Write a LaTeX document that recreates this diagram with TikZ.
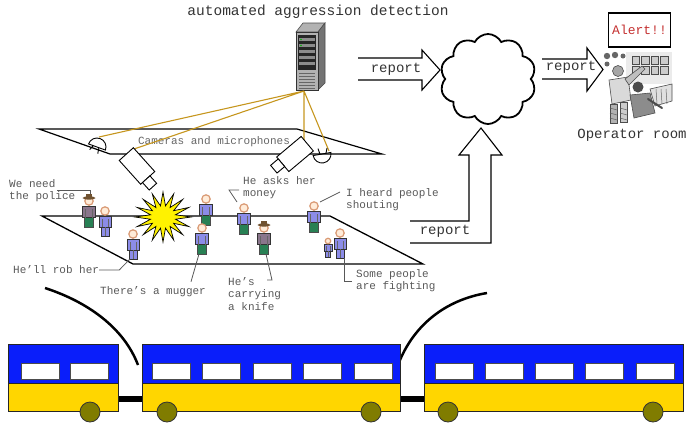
\documentclass[tikz,border=0pt]{standalone}
\usepackage{fontspec}
\setmonofont{Liberation Mono}
\usetikzlibrary{shapes.geometric, shapes.symbols, calc}

\definecolor{wire}{RGB}{198,150,30}
\definecolor{talk}{RGB}{88,88,88}
\definecolor{coachblue}{RGB}{10,30,250}
\definecolor{coachyellow}{RGB}{255,214,0}
\definecolor{axle}{RGB}{128,124,0}
\definecolor{shirt}{RGB}{140,140,232}
\definecolor{trousers}{RGB}{40,128,84}
\definecolor{coat}{RGB}{138,118,140}
\definecolor{hatbrown}{RGB}{112,82,48}
\definecolor{alertred}{RGB}{196,48,48}

\tikzset{
    face/.style={fill=white!85!orange, draw=brown!60!pink, line width=1.2},
    man/.pic={
        \draw[fill=trousers, draw=black!70] (-4.5,16) rectangle (4.5,26);
        \draw[fill=shirt, draw=black!80] (-6.5,5) rectangle (6.5,16.5);
        \draw[black!60] (-3.5,8) -- (-3.5,16.5) (3.5,8) -- (3.5,16.5);
        \draw[face] (0,0) circle (4.2);
    },
    guard/.pic={
        \draw[fill=trousers, draw=black!70] (-4.5,16) rectangle (4.5,26);
        \draw[fill=coat, draw=black!80] (-6.5,5) rectangle (6.5,16.5);
        \draw[black!60] (-3.5,8) -- (-3.5,16.5) (3.5,8) -- (3.5,16.5);
        \draw[face] (0,0) circle (4.2);
        \fill[hatbrown] (0,-3) ellipse (6.5 and 1.6);
        \fill[hatbrown] (-3,-3) rectangle (3,-7);
    },
    lady/.pic={
        \draw[fill=shirt, draw=black!80] (-4,15) rectangle (4,25);
        \draw[fill=shirt, draw=black!80] (-6,5) rectangle (6,16);
        \draw[black!60] (-3,8) -- (-3,16) (3,8) -- (3,16) (0,16) -- (0,25);
        \draw[face] (0,0) circle (4.2);
    },
    camera/.pic={
        \draw[fill=white, line width=.9] (-16,-9.5) rectangle (16,9.5);
        \draw[fill=white, line width=.9] (16,-3) rectangle (26,7);
    },
    mic/.pic={
        \draw[line width=.9] (-9,0) arc (180:0:9) -- cycle;
        \draw[line width=.9] (-2,0) -- (-3,-6) (4,0) -- (6,-5);
    }
}

\begin{document}
\begin{tikzpicture}[
        x=1pt, y=-1pt,
        every node/.style={font=\ttfamily},
        say/.style={text=talk, align=left, inner sep=0,
            font=\ttfamily\fontsize{11}{12.5}\selectfont},
        leader/.style={draw=talk, line width=.8},
        wirepath/.style={draw=wire, line width=1.1},
        bigarrow/.style={draw=black, line width=1.1, line join=miter},
        arrowtext/.style={font=\ttfamily\fontsize{14}{16}\selectfont, text=black!80},
        sketch/.style={draw=black!70, line width=.6},
        coach/.style={draw=black!85, line width=.8},
        pane/.style={fill=white, draw=black!70, line width=.8},
        wheel/.style={fill=axle, draw=black!80, line width=.8}
    ]
    \useasboundingbox (0,0) rectangle (693,424);

    \node[font=\ttfamily\fontsize{14.5}{16}\selectfont, text=black!80] (title) at (318,12) {automated aggression detection};

    % server rack
    \fill[black!30, draw=black!70, line width=.6] (296,32) -- (303,23) -- (325,23) -- (318,32) -- cycle;
    \fill[black!55, draw=black!70, line width=.6] (318,32) -- (325,23) -- (325,83) -- (318,90) -- cycle;
    \draw[fill=black!30, draw=black!80, line width=.6] (296,32) rectangle (318,90);
    \fill[black!85] (298,35) rectangle (316,70);
    \foreach \y in {38,44,50,56,62}
        \fill[black!45] (299,\y) rectangle (315,\y+3);
    \fill[green!70!black] (301,39.5) circle (.9) (301,45.5) circle (.9);
    \foreach \y in {73,76,...,88}
        \draw[black!60, line width=.5] (299,\y) -- (315,\y);
    \coordinate (hub) at (304,91);

    % ceiling with the sensors
    \draw[line width=1.2] (39,129) -- (297,129) -- (382,154) -- (110,154) -- cycle;
    \node[font=\ttfamily\fontsize{11}{12}\selectfont, text=black!60] (sensors) at (214,142) {Cameras and microphones};
    \coordinate (mic1) at (99,137);
    \coordinate (cam1) at (134,149);
    \coordinate (cam2) at (304,141);
    \coordinate (mic2) at (329,151);
    \draw[wirepath] (hub) -- (mic1) (hub) -- (cam1) (hub) -- (cam2) (hub) -- (mic2);
    \pic[rotate=160] at (97,147) {mic};
    \pic[rotate=10] at (322,154) {mic};
    \pic[rotate=-48] at (137,166) {camera};
    \pic[rotate=-140] at (295,154) {camera};

    % cloud and reports
    \node[cloud, draw, line width=1.8, cloud puffs=10, cloud puff arc=125,
          minimum width=96pt, minimum height=90pt, inner sep=0] (net) at (488,79) {};
    \draw[bigarrow] (358,58) -- (422,58) -- (422,50) -- (440,70) -- (422,90) -- (422,80) -- (358,80);
    \node[arrowtext] (rep1) at (396,69) {report};
    \draw[bigarrow] (542,59) -- (587,59) -- (587,48) -- (603,69.5) -- (587,91) -- (587,79) -- (542,79);
    \node[arrowtext] (rep2) at (571,67) {report};
    \draw[bigarrow] (410,243) -- (491,243) -- (491,155) -- (502,155) -- (481,128) -- (459,155)
        -- (469,155) -- (469,221) -- (410,221);
    \node[arrowtext] (rep3) at (445,231) {report};

    % operator room
    \node[draw, line width=1.2, minimum width=61pt, minimum height=34pt,
          font=\ttfamily\fontsize{13}{15}\selectfont, text=alertred] (alert) at (639.5,30) {Alert!!};
    \fill[black!8] (626,52) rectangle (672,84);
    \foreach \i in {0,...,3}
        \foreach \j in {0,1}
            \draw[sketch, fill=black!20, line width=.5] (632+9.5*\i,56+10*\j) rectangle ++(7.5,8);
    \fill[black!60] (607,56) circle (3.2) (615,55) circle (3.2) (623,56) circle (2.5) (607,64) circle (2.5);
    \draw[sketch, fill=black!15] (609,80) -- (628,77) -- (631,100) -- (612,104) -- cycle;
    \draw[sketch, fill=black!25] (625,79) -- (642,66) -- (645,69) -- (629,85) -- cycle;
    \draw[sketch, fill=black!30] (610,104) rectangle (617,123);
    \draw[sketch, fill=black!20] (620,102) rectangle (627,122);
    \foreach \y in {108,113,118}
        \draw[black!60, line width=.5] (610,\y) -- (617,\y+2) (620,\y) -- (627,\y+2);
    \draw[sketch, fill=black!35] (618,71) circle (5.5);
    \draw[sketch, fill=black!12] (650,89) -- (672,84) -- (672,101) -- (655,106) -- cycle;
    \foreach \k in {0,1,2}
        \draw[black!60, line width=.5] (656+5*\k,89) -- (657+5*\k,104);
    \draw[sketch, fill=black!45] (630,95) -- (650,93) -- (655,113) -- (634,118) -- cycle;
    \draw[black!70, line width=2, line cap=round] (648,99) -- (662,108);
    \fill[black!70] (638,87) circle (5.5);
    \node[font=\ttfamily\fontsize{14}{16}\selectfont, text=black!80] (room) at (632,135) {Operator room};

    % platform and passengers
    \draw[line width=1.3] (42,216) -- (330,216) -- (423,264) -- (133,264) -- cycle;
    \node[star, star points=16, star point ratio=2.2, draw, fill=yellow, line width=.7,
          minimum size=50pt, inner sep=0, xscale=1.12] (bang) at (163,217) {};
    \coordinate (p1) at (89,201);
    \coordinate (p2) at (105,211);
    \coordinate (p3) at (133,234);
    \coordinate (p4) at (206,199);
    \coordinate (p5) at (202,228);
    \coordinate (p6) at (244,208);
    \coordinate (p7) at (264,228);
    \coordinate (p8) at (314,206);
    \coordinate (p9) at (328,241);
    \coordinate (p10) at (340,233);
    \pic at (p1) {guard};
    \pic at (p2) {lady};
    \pic at (p3) {lady};
    \pic at (p4) {man};
    \pic at (p5) {man};
    \pic at (p6) {man};
    \pic at (p7) {guard};
    \pic at (p8) {man};
    \pic[scale=.65] at (p9) {lady};
    \pic at (p10) {lady};

    % what they say
    \node[say, anchor=north west] (police) at (9,179) {We need\\the police};
    \node[say, anchor=west] (rob) at (13,270) {He’ll rob her};
    \node[say, anchor=west] (mugger) at (100,292) {There’s a mugger};
    \node[say, anchor=north west] (knife) at (228,277) {He’s\\carrying\\a knife};
    \node[say, anchor=north west] (asks) at (243,176) {He asks her\\money};
    \node[say, anchor=north west] (heard) at (346,188) {I heard people\\shouting};
    \node[say, anchor=north west] (fight) at (356,269) {Some people\\are fighting};
    \draw[leader] ($(police.north west)+(48,11)$) -| ($(p1)+(1,-7)$);
    \draw[leader] (rob.east) -- ++(20,0) -- ($(p3)+(-3,25)$);
    \draw[leader] ($(mugger.north west)+(91,-5)$) -- ($(p5)+(-3,26)$);
    \draw[leader] ($(knife.north west)+(39,3)$) -- ++(5,0) -- ($(p7)+(2,26)$);
    \draw[leader] ($(asks.north west)+(-4,14)$) -- ++(-10,0) -- ($(p6)+(-7,-6)$);
    \draw[leader] ($(heard.north west)+(-6,4)$) -- ($(p8)+(6,-4)$);
    \draw[leader] ($(p10)+(4,25)$) |- ($(fight.north west)+(-4,12)$);

    % train
    \draw[line width=2.5] (45,288) .. controls (88,302) and (124,328) .. (138,365);
    \draw[line width=2.5] (400,360) .. controls (415,325) and (445,300) .. (487,293);
    \fill[black] (117,396) rectangle (143,402);
    \fill[black] (399,396) rectangle (425,402);
    \draw[coach, fill=coachblue] (8,344) rectangle (118,383);
    \draw[coach, fill=coachyellow] (8,383) rectangle (118,411);
    \foreach \x in {21,70}
        \draw[pane] (\x,363) rectangle ++(38,16);
    \draw[coach, fill=coachblue] (142,344) rectangle (400,383);
    \draw[coach, fill=coachyellow] (142,383) rectangle (400,411);
    \foreach \x in {152,202.5,...,355}
        \draw[pane] (\x,363) rectangle ++(38,16);
    \draw[coach, fill=coachblue] (424,344) rectangle (683,383);
    \draw[coach, fill=coachyellow] (424,383) rectangle (683,411);
    \foreach \x in {435,485.25,...,640}
        \draw[pane] (\x,363) rectangle ++(38,16);
    \foreach \x in {90,167,371,448,653}
        \draw[wheel] (\x,412) circle (10);
\end{tikzpicture}
\end{document}
